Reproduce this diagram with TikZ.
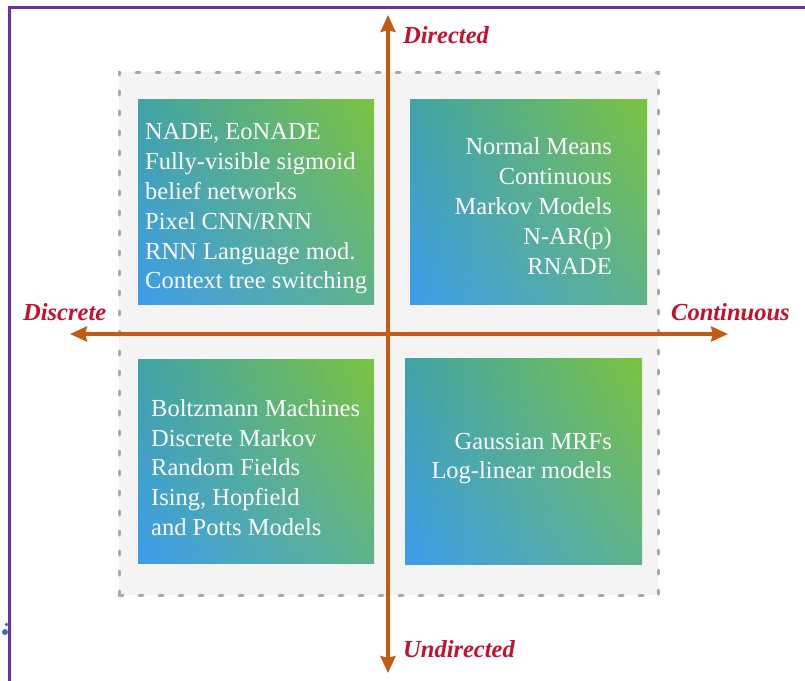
\documentclass[tikz,border=0pt]{standalone}
\usepackage{fontspec}
\setmainfont{Liberation Serif}
\usetikzlibrary{arrows.meta,shadings}

\definecolor{framepurple}{HTML}{7030A0}
\definecolor{panelgrey}{HTML}{F4F4F4}
\definecolor{dashgrey}{HTML}{A8A8A8}
\definecolor{axisbrown}{HTML}{C55A11}
\definecolor{labelred}{HTML}{C4122D}
\definecolor{qblue}{HTML}{3E9DEC}
\definecolor{qgreen}{HTML}{7CC341}
\definecolor{qtealtop}{HTML}{40A3A6}
\definecolor{qtealbot}{HTML}{5EB38A}
\definecolor{dotblue}{HTML}{2E75B6}

\tikzset{
  quad/.style={rectangle, inner sep=0pt, draw=none, shade,
    lower left=qblue, upper right=qgreen,
    upper left=qtealtop, lower right=qtealbot,
    minimum width=236pt, minimum height=205pt},
  quadtext/.style={inner sep=0pt, text=white,
    font=\fontsize{24.5}{29.8}\selectfont},
  axisline/.style={draw=axisbrown, line width=3.4pt,
    {Stealth[length=17pt,width=15pt,inset=2pt]}-{Stealth[length=17pt,width=15pt,inset=2pt]}},
  axislabel/.style={inner sep=0pt, text=labelred,
    font=\fontsize{24.5}{30}\selectfont\bfseries\itshape},
}

\begin{document}
\begin{tikzpicture}[x=1pt,y=-1pt]
\useasboundingbox (0,0) rectangle (805,680);
\fill[white] (0,0) rectangle (805,680);

% outer frame (only the top and left sides fall inside the page)
\draw[framepurple, line width=3pt] (9,690) -- (9,7.5) -- (815,7.5);
\fill[dotblue] (5,632) circle (3);
\fill[dotblue] (6.5,624.5) circle (1.8);

% grey dashed panel behind the four quadrants
\node[rectangle, fill=panelgrey, draw=dashgrey, line width=3pt,
  line cap=round, dash pattern=on 4pt off 16pt,
  minimum width=539pt, minimum height=523pt] (panel) at (388.5,333.5) {};

% the four quadrants
\node[quad] (tl) at (256,201.5) {};
\node[quad, minimum width=237pt] (tr) at (528.5,201.5) {};
\node[quad, minimum height=204pt] (bl) at (256,461) {};
\node[quad, minimum width=237pt, minimum height=206pt] (br) at (523.5,461) {};

\node[quadtext, anchor=west, align=left] (tltext) at (145,209)
  {NADE, EoNADE\\Fully-visible sigmoid\\belief networks\\Pixel CNN/RNN\\RNN Language mod.\\Context tree switching};
\node[quadtext, anchor=east, align=right] (trtext) at (612,206)
  {Normal Means\\Continuous\\Markov Models\\N-AR(p)\\RNADE};
\node[quadtext, anchor=west, align=left] (bltext) at (151,467.5)
  {Boltzmann Machines\\Discrete Markov\\Random Fields\\Ising, Hopfield\\and Potts Models};
\node[quadtext, anchor=east, align=right] (brtext) at (612,458.5)
  {Gaussian MRFs\\Log-linear models};

% axes
\coordinate (ytop) at (388,15);
\coordinate (ybot) at (388,673);
\coordinate (xleft) at (70,334);
\coordinate (xright) at (728,334);
\draw[axisline] (xleft) -- (xright);
\draw[axisline] (ybot) -- (ytop);

% axis labels
\node[axislabel, anchor=base west] (directed) at (403,43) {Directed};
\node[axislabel, anchor=base west] (undirected) at (403,657) {Undirected};
\node[axislabel, anchor=base west] (discrete) at (23,320) {Discrete};
\node[axislabel, anchor=base west] (continuous) at (671,320) {Continuous};
\end{tikzpicture}
\end{document}
